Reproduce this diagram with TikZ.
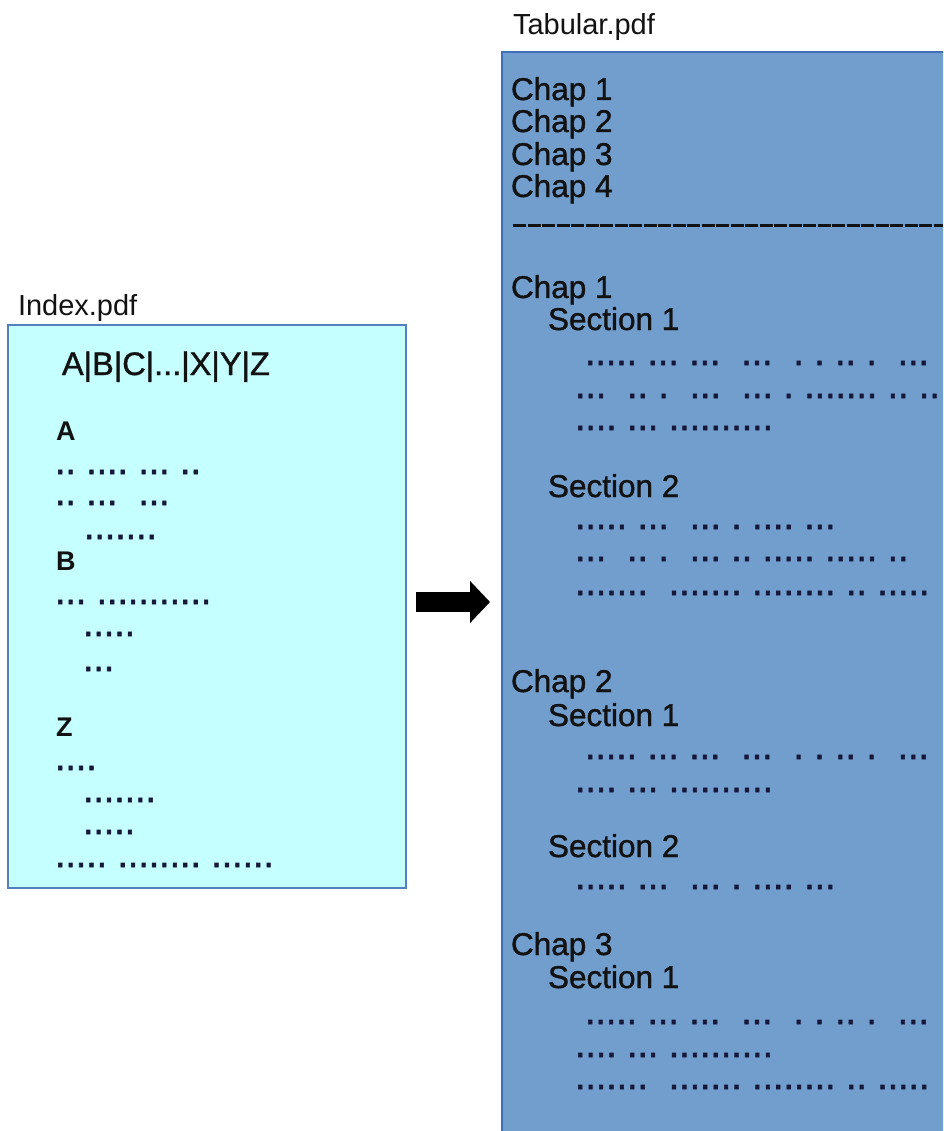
\documentclass[tikz,border=0pt]{standalone}
\usepackage{fontspec}
\setmainfont{Liberation Sans}
\newfontfamily\headfont[FakeBold=1.2]{Liberation Sans}
\newfontfamily\letterfont{Liberation Sans Bold}
\newfontfamily\dotfont[FakeBold=1.5]{Liberation Sans}
\usetikzlibrary{arrows.meta}

\definecolor{idxfill}{RGB}{198,255,255}
\definecolor{idxline}{RGB}{84,128,192}
\definecolor{tabfill}{RGB}{114,158,206}
\definecolor{tabline}{RGB}{64,110,184}
\definecolor{dotc}{RGB}{22,24,58}
\definecolor{ink}{RGB}{18,18,18}

% rows of filler dots (spaces written as ~ so that runs of them are kept)
\newcommand\fillA{.....~...~...~~...~~.~.~..~.~~...}
\newcommand\fillB{...~~..~.~~...~~...~.~.......~..~..}
\newcommand\fillC{....~...~..........}
\newcommand\fillD{.....~...~~...~.~....~...}
\newcommand\fillE{...~~..~.~~...~..~.....~.....~..}
\newcommand\fillF{.......~~.......~........~..~.....}

\begin{document}
\begin{tikzpicture}[x=1pt,y=-1pt,
  every node/.style={inner sep=0pt, outer sep=0pt},
  filebox/.style={draw, line width=1.5pt, anchor=north west},
  fname/.style={anchor=base west, text=ink, font=\fontsize{29}{29}\selectfont},
  head/.style={anchor=base west, text=ink, font=\headfont\fontsize{31.5}{31.5}\selectfont},
  letter/.style={anchor=base west, text=ink, font=\letterfont\fontsize{27}{27}\selectfont},
  dotrow/.style={anchor=base west, text=dotc, font=\dotfont\fontsize{37.5}{37.5}\selectfont},
]
\useasboundingbox (0,0) rectangle (943,1131);
\clip (0,0) rectangle (943,1131);

% the two files
\node[filebox, draw=idxline, fill=idxfill, minimum width=398pt, minimum height=563pt]
  (idx) at (8,325) {};
\node[filebox, draw=tabline, fill=tabfill, minimum width=480pt, minimum height=1120pt]
  (tab) at (502,52) {};

\node[fname] (idxname) at (18,316) {Index.pdf};
\node[fname] (tabname) at (513,35) {Tabular.pdf};

% index contents
\node[head, font=\headfont\fontsize{32.5}{32.5}\selectfont] (alpha) at (62,375) {A|B|C|...|X|Y|Z};
\node[letter] (la) at (56,440) {A};
\node[dotrow] (a1) at (55,474) {..~....~...~..};
\node[dotrow] (a2) at (55,505) {..~...~~...};
\node[dotrow] (a3) at (84,539) {.......};
\node[letter] (lb) at (56,570) {B};
\node[dotrow] (b1) at (55,604) {...~...........};
\node[dotrow] (b2) at (83,636) {.....};
\node[dotrow] (b3) at (83,671) {...};
\node[letter] (lz) at (56,736) {Z};
\node[dotrow] (z1) at (55,770) {....};
\node[dotrow] (z2) at (83,802) {.......};
\node[dotrow] (z3) at (83,834) {.....};
\node[dotrow] (z4) at (55,867) {.....~........~......};

% table of contents
\node[head] (toc1) at (511,100) {Chap 1};
\node[head] (toc2) at (511,132) {Chap 2};
\node[head] (toc3) at (511,165) {Chap 3};
\node[head] (toc4) at (511,197) {Chap 4};
\coordinate (sepL) at (513,226);
\coordinate (sepR) at (943,226);
\draw[ink, line width=3pt, dash pattern=on 13pt off 1.5pt] (sepL) -- (sepR);

% chapter 1
\node[head] (c1) at (511,298) {Chap 1};
\node[head] (c1s1) at (548,330) {Section 1};
\node[dotrow] (c1s1a) at (585,365) {\fillA};
\node[dotrow] (c1s1b) at (575,398) {\fillB};
\node[dotrow] (c1s1c) at (575,430) {\fillC};
\node[head] (c1s2) at (548,497) {Section 2};
\node[dotrow] (c1s2a) at (575,529) {\fillD};
\node[dotrow] (c1s2b) at (575,561) {\fillE};
\node[dotrow] (c1s2c) at (575,595) {\fillF};

% chapter 2
\node[head] (c2) at (511,692) {Chap 2};
\node[head] (c2s1) at (548,726) {Section 1};
\node[dotrow] (c2s1a) at (585,759) {\fillA};
\node[dotrow] (c2s1b) at (575,792) {\fillC};
\node[head] (c2s2) at (548,857) {Section 2};
\node[dotrow] (c2s2a) at (575,889) {\fillD};

% chapter 3
\node[head] (c3) at (511,955) {Chap 3};
\node[head] (c3s1) at (548,988) {Section 1};
\node[dotrow] (c3s1a) at (585,1024) {\fillA};
\node[dotrow] (c3s1b) at (575,1057) {\fillC};
\node[dotrow] (c3s1c) at (575,1089) {\fillF};

% block arrow from the index to the tabular file
\draw[black, line width=20pt, -{Triangle[length=20pt, width=41pt]},
      shorten <=10pt, shorten >=12pt]
  (idx.east |- 0,602) -- (tab.west |- 0,602);
\end{tikzpicture}
\end{document}
